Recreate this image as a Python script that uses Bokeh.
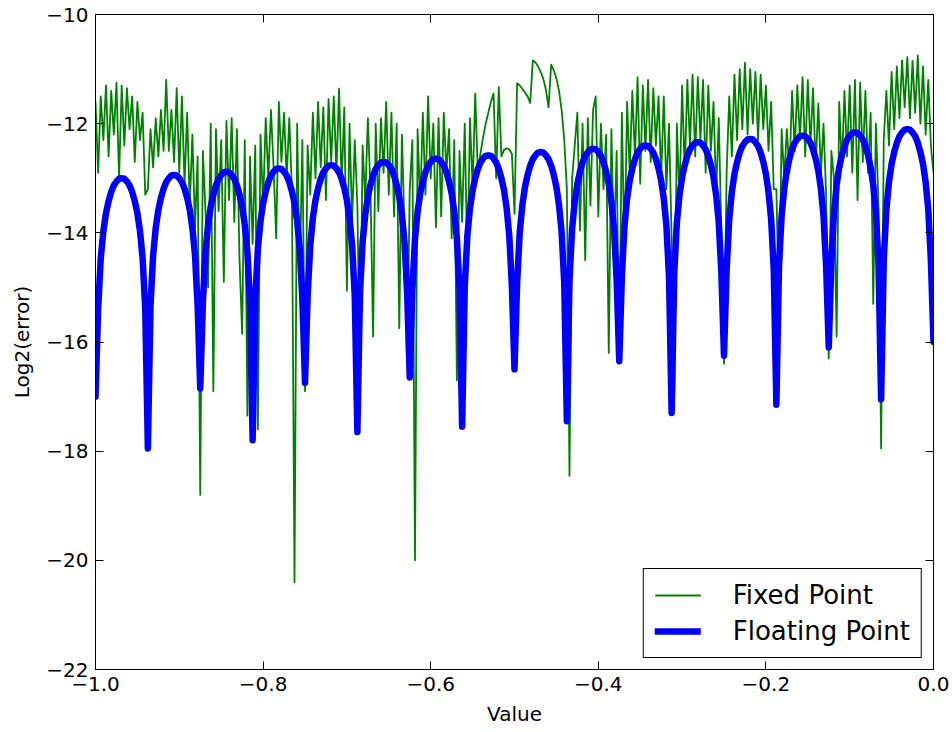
from bokeh.plotting import figure
from bokeh.models import Range1d, LinearAxis, FixedTicker, Legend, LegendItem
from bokeh.embed import file_html
from bokeh.resources import INLINE

# ---------------- data ----------------
x_ticks = [-1.0, -0.8, -0.6, -0.4, -0.2, 0.0]
x_tick_labels = ["\u22121.0", "\u22120.8", "\u22120.6", "\u22120.4", "\u22120.2", "0.0"]
y_ticks = [-22, -20, -18, -16, -14, -12, -10]
y_tick_labels = ["\u221222", "\u221220", "\u221218", "\u221216", "\u221214", "\u221212", "\u221210"]

n_samples = 321  # samples evenly spaced over [-1, 0]
sample_x = [i / (n_samples - 1) - 1.0 for i in range(n_samples)]

fixed_point = [
    -11.6, -12.9, -11.5, -12.3, -11.3, -12.6, -11.4, -12.2, -11.25, -13.0, -11.3, -12.4, -11.35, -12.1, -11.5, -12.7, -11.6, -12.3, -11.8, -13.3,
    -13.2, -12.1, -12.8, -11.9, -12.6, -11.75, -12.5, -11.2, -12.5, -11.75, -12.7, -11.35, -12.9, -11.5, -13.1, -11.8, -13.5, -12.2, -13.9, -12.6,
    -18.8, -12.5, -13.6, -15.0, -12.0, -16.9, -12.1, -13.6, -12.3, -14.9, -11.95, -13.4, -11.9, -13.8, -12.1, -14.5, -15.85, -12.3, -17.35, -12.6,
    -14.2, -12.4, -17.6, -12.2, -13.5, -11.9, -13.0, -11.75, -12.8, -14.1, -11.6, -12.7, -11.8, -13.0, -11.9, -13.2, -20.4, -12.0, -14.8, -12.3,
    -16.9, -12.4, -13.3, -11.8, -13.0, -11.6, -12.8, -11.7, -13.4, -11.55, -12.7, -11.5, -12.9, -11.36, -13.1, -11.7, -15.06, -12.0, -13.8, -12.3,
    -13.5, -16.6, -12.4, -13.4, -11.9, -13.2, -15.9, -12.0, -13.6, -11.9, -12.9, -11.6, -13.3, -11.8, -13.7, -12.0, -15.75, -12.2, -13.9, -16.4,
    -13.2, -12.3, -20.0, -12.1, -13.5, -11.8, -13.3, -11.5, -13.0, -12.0, -13.9, -11.9, -13.7, -11.8, -12.9, -12.1, -14.1, -12.3, -16.7, -12.5,
    -13.8, -12.0, -14.6, -11.9, -13.2, -11.45, -12.9, -12.55, -12.25, -12.0, -11.8, -11.6, -11.45, -13.0, -11.33, -12.6, -12.48, -12.45, -12.47, -12.55,
    -13.65, -11.26, -11.3, -11.36, -11.43, -11.5, -11.62, -10.84, -10.88, -10.95, -11.05, -11.18, -11.38, -11.7, -10.92, -11.02, -11.17, -11.4, -11.75, -12.3,
    -13.2, -18.45, -13.0, -12.4, -11.8, -13.96, -12.0, -14.5, -11.9, -13.5, -11.75, -11.5, -13.7, -12.0, -13.2, -12.2, -16.2, -12.1, -14.3, -12.5,
    -16.4, -11.8, -14.4, -11.6, -12.9, -11.4, -12.6, -11.15, -13.1, -11.3, -12.5, -11.2, -12.7, -11.35, -12.4, -11.5, -13.0, -11.5, -13.2, -12.0,
    -14.1, -17.0, -12.0, -13.4, -11.3, -12.9, -11.2, -12.4, -11.1, -12.6, -11.15, -12.3, -11.2, -12.9, -11.3, -12.5, -11.6, -13.3, -11.9, -14.0,
    -16.4, -12.9, -11.5, -12.6, -11.1, -12.3, -11.0, -12.1, -10.88, -12.2, -11.0, -12.0, -11.05, -12.3, -11.1, -12.1, -11.3, -12.5, -11.6, -13.2,
    -13.2, -15.5, -12.1, -13.0, -12.1, -12.9, -11.4, -12.5, -11.3, -12.3, -11.15, -12.6, -11.2, -12.4, -11.35, -12.8, -11.63, -12.9, -12.0, -13.3,
    -16.3, -12.5, -13.0, -15.9, -11.6, -12.8, -11.4, -12.6, -11.3, -12.9, -11.2, -13.4, -11.25, -12.7, -11.4, -12.9, -11.8, -15.3, -12.0, -13.5,
    -17.95, -12.3, -11.4, -12.4, -11.05, -12.1, -10.95, -11.9, -10.84, -11.7, -10.78, -11.9, -10.85, -11.8, -10.75, -12.0, -10.95, -12.2, -11.2, -12.4,
    -12.9,
]

floating_point = [
    -17.0, -15.40, -14.47, -13.97, -13.64, -13.42, -13.25, -13.13, -13.06, -13.01, -13.00, -13.01, -13.06, -13.13, -13.25, -13.42, -13.64, -13.97, -14.47, -15.40,
    -17.95, -15.34, -14.41, -13.91, -13.58, -13.36, -13.19, -13.07, -13.00, -12.95, -12.94, -12.95, -13.00, -13.07, -13.19, -13.36, -13.58, -13.91, -14.41, -15.34,
    -16.85, -15.28, -14.35, -13.85, -13.52, -13.30, -13.13, -13.01, -12.94, -12.89, -12.88, -12.89, -12.94, -13.01, -13.13, -13.30, -13.52, -13.85, -14.35, -15.28,
    -17.8, -15.22, -14.29, -13.79, -13.46, -13.24, -13.07, -12.95, -12.88, -12.83, -12.82, -12.83, -12.88, -12.95, -13.07, -13.24, -13.46, -13.79, -14.29, -15.22,
    -16.75, -15.16, -14.23, -13.73, -13.40, -13.18, -13.01, -12.89, -12.82, -12.77, -12.76, -12.77, -12.82, -12.89, -13.01, -13.18, -13.40, -13.73, -14.23, -15.16,
    -17.65, -15.10, -14.17, -13.67, -13.34, -13.12, -12.95, -12.83, -12.76, -12.71, -12.70, -12.71, -12.76, -12.83, -12.95, -13.12, -13.34, -13.67, -14.17, -15.10,
    -16.65, -15.04, -14.11, -13.61, -13.28, -13.06, -12.89, -12.77, -12.70, -12.65, -12.64, -12.65, -12.70, -12.77, -12.89, -13.06, -13.28, -13.61, -14.11, -15.04,
    -17.55, -14.98, -14.05, -13.55, -13.22, -13.00, -12.83, -12.71, -12.64, -12.59, -12.58, -12.59, -12.64, -12.71, -12.83, -13.00, -13.22, -13.55, -14.05, -14.98,
    -16.5, -14.92, -13.99, -13.49, -13.16, -12.94, -12.77, -12.65, -12.58, -12.53, -12.52, -12.53, -12.58, -12.65, -12.77, -12.94, -13.16, -13.49, -13.99, -14.92,
    -17.45, -14.86, -13.93, -13.43, -13.10, -12.88, -12.71, -12.59, -12.52, -12.47, -12.46, -12.47, -12.52, -12.59, -12.71, -12.88, -13.10, -13.43, -13.93, -14.86,
    -16.35, -14.80, -13.87, -13.37, -13.04, -12.82, -12.65, -12.53, -12.46, -12.41, -12.40, -12.41, -12.46, -12.53, -12.65, -12.82, -13.04, -13.37, -13.87, -14.80,
    -17.3, -14.74, -13.81, -13.31, -12.98, -12.76, -12.59, -12.47, -12.40, -12.35, -12.34, -12.35, -12.40, -12.47, -12.59, -12.76, -12.98, -13.31, -13.81, -14.74,
    -16.25, -14.68, -13.75, -13.25, -12.92, -12.70, -12.53, -12.41, -12.34, -12.29, -12.28, -12.29, -12.34, -12.41, -12.53, -12.70, -12.92, -13.25, -13.75, -14.68,
    -17.15, -14.62, -13.69, -13.19, -12.86, -12.64, -12.47, -12.35, -12.28, -12.23, -12.22, -12.23, -12.28, -12.35, -12.47, -12.64, -12.86, -13.19, -13.69, -14.62,
    -16.1, -14.56, -13.63, -13.13, -12.80, -12.58, -12.41, -12.29, -12.22, -12.17, -12.16, -12.17, -12.22, -12.29, -12.41, -12.58, -12.80, -13.13, -13.63, -14.56,
    -17.05, -14.50, -13.57, -13.07, -12.74, -12.52, -12.35, -12.23, -12.16, -12.11, -12.10, -12.11, -12.16, -12.23, -12.35, -12.52, -12.74, -13.07, -13.57, -14.50,
    -16.0,
]

# ---------------- figure ----------------
FONT = "DejaVu Sans"

p = figure(
    width=950, height=730,
    x_range=Range1d(-1.0, 0.0), y_range=Range1d(-22, -10),
    output_backend="svg", toolbar_location=None,
    min_border_left=95, min_border_right=17, min_border_top=14, min_border_bottom=61,
    x_axis_label="Value", y_axis_label="Log2(error)",
)
p.background_fill_color = "white"
p.border_fill_color = "white"
p.xgrid.visible = False
p.ygrid.visible = False
p.outline_line_color = "black"
p.outline_line_width = 1
p.outline_line_alpha = 1

r_fixed = p.line(sample_x, fixed_point, line_color="#008000", line_width=1.8, line_join="round")
r_float = p.line(sample_x, floating_point, line_color="#0000ff", line_width=6.5, line_join="round", line_cap="round")


def style_axis(ax, ticks, labels, show_labels):
    ax.ticker = FixedTicker(ticks=ticks)
    ax.major_tick_in = 8
    ax.major_tick_out = 0
    ax.minor_tick_line_color = None
    ax.major_tick_line_color = "black"
    ax.axis_line_color = "black"
    ax.axis_label_text_font = FONT
    ax.axis_label_text_font_style = "normal"
    ax.axis_label_text_font_size = "20px"
    ax.axis_label_text_color = "black"
    ax.major_label_text_font = FONT
    if show_labels:
        ax.major_label_overrides = {t: l for t, l in zip(ticks, labels)}
        ax.major_label_text_color = "black"
        ax.major_label_text_font_size = "20px"
        ax.major_label_standoff = 7
        ax.axis_label_standoff = 9
    else:
        ax.major_label_text_color = None
        ax.major_label_text_font_size = "0px"
        ax.major_label_standoff = 0


style_axis(p.xaxis[0], x_ticks, x_tick_labels, True)
style_axis(p.yaxis[0], y_ticks, y_tick_labels, True)
p.xaxis[0].axis_label_standoff = 8

top_axis = LinearAxis()
style_axis(top_axis, x_ticks, x_tick_labels, False)
p.add_layout(top_axis, "above")
right_axis = LinearAxis()
style_axis(right_axis, y_ticks, y_tick_labels, False)
p.add_layout(right_axis, "right")

legend = Legend(
    items=[LegendItem(label="Fixed Point", renderers=[r_fixed]),
           LegendItem(label="Floating Point", renderers=[r_float])],
    location="bottom_right",
    margin=11, padding=11, spacing=6,
    glyph_width=46, glyph_height=28, label_standoff=32,
    label_text_font=FONT, label_text_font_size="26px", label_text_color="black",
    border_line_color="black", border_line_width=1, border_line_alpha=1,
    background_fill_color="white", background_fill_alpha=1,
)
p.add_layout(legend)

open("out.html", "w").write(file_html(p, INLINE))
